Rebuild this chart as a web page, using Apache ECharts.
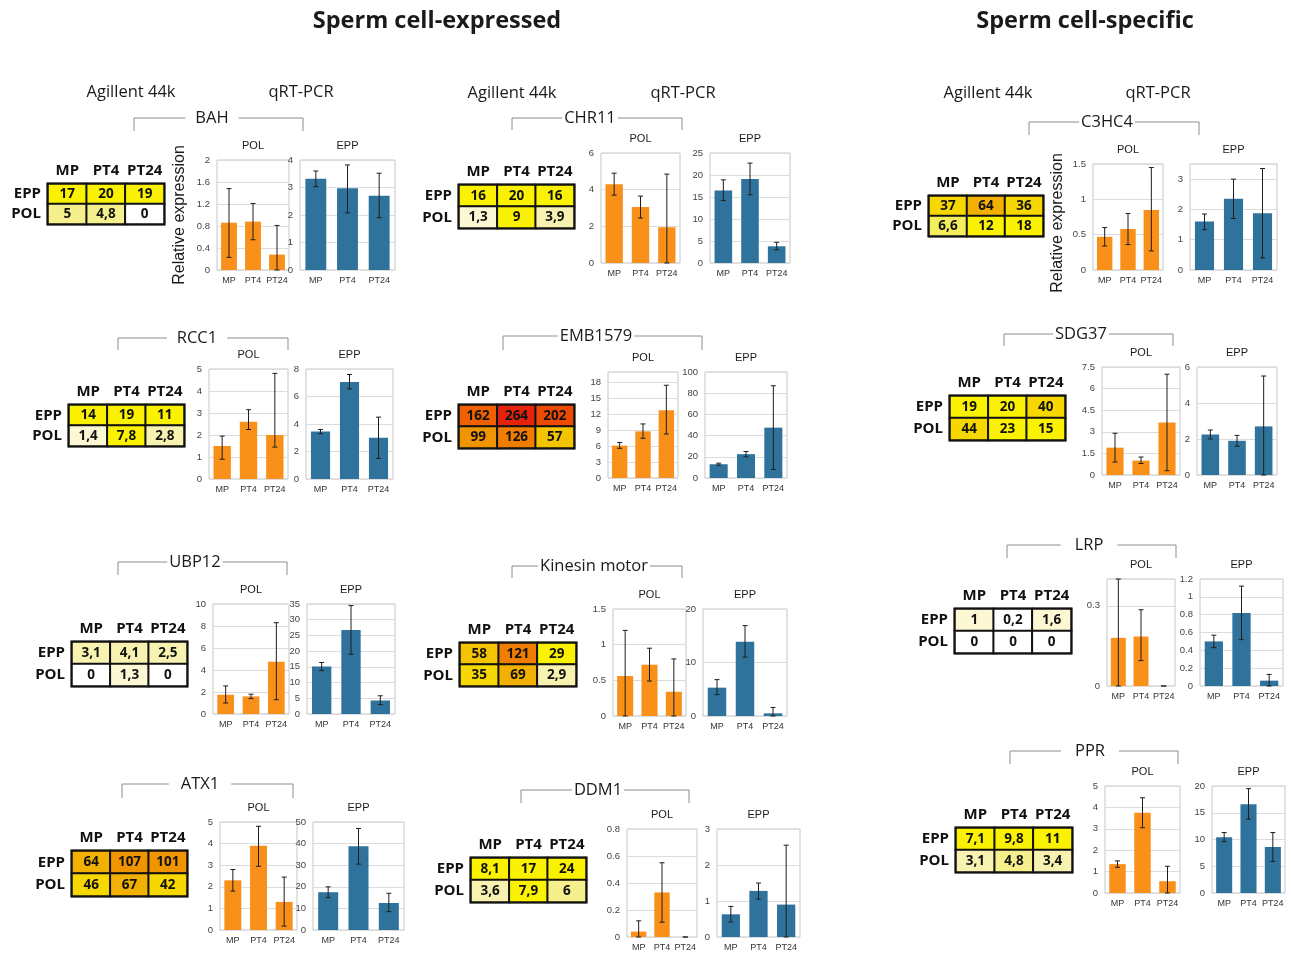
<!DOCTYPE html>
<html><head><meta charset="utf-8">
<script src="https://cdn.jsdelivr.net/npm/echarts@6/dist/echarts.min.js"></script>
<style>html,body{margin:0;padding:0;background:#fff}#c{width:1291px;height:953px}</style>
</head><body><div id="c"></div><script>
// ---------------- DATA ----------------
const genes = ['BAH','CHR11','C3HC4','RCC1','EMB1579','SDG37','UBP12','Kinesin motor','LRP','ATX1','DDM1','PPR'];
const stages = ['MP','PT4','PT24'];
const tissues = ['EPP','POL'];
const headings = ['Sperm cell-expressed','Sperm cell-specific'];
const methodLabels = ['Agillent 44k','qRT-PCR'];
const yAxisName = 'Relative expression';

// Agilent 44k microarray values (table cells)
const arrayEPP = [[17,20,19],[16,20,16],[37,64,36],[14,19,11],[162,264,202],[19,20,40],[3.1,4.1,2.5],[58,121,29],[1,0.2,1.6],[64,107,101],[8.1,17,24],[7.1,9.8,11]];
const arrayPOL = [[5,4.8,0],[1.3,9,3.9],[6.6,12,18],[1.4,7.8,2.8],[99,126,57],[44,23,15],[0,1.3,0],[35,69,2.9],[0,0,0],[46,67,42],[3.6,7.9,6],[3.1,4.8,3.4]];

// qRT-PCR POL
const qpcrPOL   = [[0.86,0.88,0.28],[4.3,3.05,1.95],[0.47,0.58,0.85],[1.5,2.6,2.0],[6.1,8.8,12.8],[1.9,1.0,3.65],[1.75,1.6,4.75],[0.56,0.72,0.34],[0.18,0.185,0],[2.3,3.9,1.3],[0.04,0.33,0],[1.35,3.75,0.55]];
const qpcrPOLlo = [[0.23,0.55,0],[3.7,2.45,0],[0.34,0.36,0.27],[0.9,2.25,1.45],[5.6,7.5,8.3],[0.9,0.8,0.3],[1.0,1.4,1.3],[0,0.49,0],[0,0.095,0],[1.8,2.95,0.18],[0,0.11,0],[1.2,3.05,0]];
const qpcrPOLhi = [[1.48,1.21,0.81],[4.9,3.65,4.85],[0.6,0.8,1.45],[1.95,3.15,4.8],[6.7,10.2,17.5],[2.9,1.25,7.0],[2.55,1.8,8.3],[1.2,0.95,0.8],[0.4,0.285,0],[2.8,4.8,2.45],[0.12,0.55,0],[1.5,4.45,1.25]];
// qRT-PCR EPP
const qpcrEPP   = [[3.32,2.97,2.7],[16.5,19.1,3.8],[1.6,2.35,1.87],[3.45,7.05,3.0],[13,22.5,47.5],[2.25,1.9,2.7],[15.1,26.7,4.3],[5.3,13.9,0.5],[0.5,0.82,0.06],[17.5,38.8,12.5],[0.63,1.28,0.9],[10.4,16.6,8.6]];
const qpcrEPPlo = [[3.03,2.08,1.9],[14.2,15.5,3.0],[1.33,1.7,0.4],[3.3,6.55,1.5],[12,20,8],[2.0,1.6,0],[13.8,19,3.0],[4.0,11,0],[0.43,0.52,0],[15,30.5,8.5],[0.42,1.05,0],[9.6,13.8,5.9]];
const qpcrEPPhi = [[3.6,3.82,3.52],[18.9,22.7,4.7],[1.85,3.0,3.35],[3.6,7.6,4.5],[14,25,87],[2.5,2.2,5.5],[16.4,34.5,5.8],[6.8,16.9,1.6],[0.57,1.12,0.13],[20,47,17],[0.85,1.5,2.55],[11.3,19.5,11.3]];

// axis tick settings
const polAxisMax  = [2,6,1.5,5,20,7.5,10,1.5,0.4,5,0.8,5];
const polAxisStep = [0.4,2,0.5,1,3,1.5,2,0.5,0.3,1,0.2,1];
const eppAxisMax  = [4,25,3.5,8,100,6,35,20,1.2,50,3,20];
const eppAxisStep = [1,5,1,2,20,2,5,10,0.2,10,1,5];

// ---------------- LAYOUT (positions only) ----------------
// tab/pol/epp: [left, top, width, height]; br: [x1, x2, y, yEnd, nameX, gapPad]
const layout = [
  {tab:[48,184,116,40], pol:[217,160,72,110], epp:[300,160,95,110], br:[134,303,118,131,212,10]},
  {tab:[459,185,115,43], pol:[601,153,79,110], epp:[710,153,80,110], br:[512,682,118,130,590,2]},
  {tab:[929,196,114,40], pol:[1093,164,70,106], epp:[1190,164,87,106], br:[1029,1199,122,135,1107,2]},
  {tab:[69,405,115,41], pol:[209,369,79,110], epp:[306,369,87,110], br:[118,288,338,350,197,10]},
  {tab:[459,405,115,43], pol:[608,372,70,106], epp:[705,372,82,106], br:[503,702,336,350,596,2]},
  {tab:[950,396,115,44], pol:[1102,367,78,108], epp:[1197,367,80,108], br:[1004,1173,334,346,1081,2]},
  {tab:[72,642,115,44], pol:[213,604,76,110], epp:[307,604,88,110], br:[118,287,562,575,195,2]},
  {tab:[460,643,116,43], pol:[613,609,73,107], epp:[703,609,84,107], br:[512,682,566,578,594,2]},
  {tab:[955,609,116,44], pol:[1107,579,68,107], epp:[1200,579,83,107], br:[1007,1176,545,558,1089,14]},
  {tab:[72,851,115,45], pol:[220,822,77,108], epp:[313,822,91,108], br:[122,293,784,798,200,12]},
  {tab:[471,858,115,44], pol:[627,829,70,108], epp:[717,829,83,108], br:[521,689,790,803,598,2]},
  {tab:[956,828,116,44], pol:[1105,786,75,107], epp:[1212,786,73,107], br:[1010,1178,751,764,1090,14]}
];
const headingPos = [[437,21],[1085,21]];
const methodPos = [[[131,92],[301,92]],[[512,93],[683,93]],[[988,93],[1158,93]]];
const relExprPos = [[180,215],[1058,223]];

// ---------------- BUILD ----------------
const SANS = 'Open Sans';
const ARIAL = 'Liberation Sans';
const POLC = '#f8901a', EPPC = '#2f739d';
const fmt = v => String(v).replace('.', ',');

const grid = [], xAxis = [], yAxis = [], series = [], graphic = [], heatIdx = [];

function isMult(max, step){ const r = max/step; return Math.abs(r - Math.round(r)) < 1e-6; }

function errRender(params, api){
  const i = api.value(0);
  const lo = api.coord([i, api.value(1)]);
  const hi = api.coord([i, api.value(2)]);
  const w = 2.5, st = {stroke:'#1e1e1e', lineWidth:1};
  return {type:'group', children:[
    {type:'line', shape:{x1:lo[0],y1:lo[1],x2:hi[0],y2:hi[1]}, style:st},
    {type:'line', shape:{x1:lo[0]-w,y1:lo[1],x2:lo[0]+w,y2:lo[1]}, style:st},
    {type:'line', shape:{x1:hi[0]-w,y1:hi[1],x2:hi[0]+w,y2:hi[1]}, style:st}
  ]};
}

function text(t, x, y, font, extra){
  return Object.assign({type:'text', z:20, x:x, y:y, style:{text:t, x:0, y:0, font:font, fill:'#1a1a1a',
    align:'center', verticalAlign:'middle', textAlign:'center', textVerticalAlign:'middle'}}, extra||{});
}

genes.forEach((g, i) => {
  const L = layout[i];
  const gi = grid.length;
  // table grid
  grid.push({left:L.tab[0], top:L.tab[1], width:L.tab[2], height:L.tab[3], show:true, borderColor:'#111', borderWidth:3, backgroundColor:'#fff'});
  xAxis.push({gridIndex:gi, type:'category', data:stages, position:'top', axisLine:{show:false}, axisTick:{show:false}, splitLine:{show:false},
    axisLabel:{fontFamily:SANS, fontWeight:'bold', fontSize:15, color:'#111', margin:6, interval:0, hideOverlap:false}});
  yAxis.push({gridIndex:gi, type:'category', data:tissues, inverse:true, axisLine:{show:false}, axisTick:{show:false}, splitLine:{show:false},
    axisLabel:{fontFamily:SANS, fontWeight:'bold', fontSize:15, color:'#111', margin:7, interval:0}});
  const hd = [];
  stages.forEach((s, k) => { hd.push([k, 0, arrayEPP[i][k]]); hd.push([k, 1, arrayPOL[i][k]]); });
  heatIdx.push(series.length);
  series.push({type:'heatmap', xAxisIndex:gi, yAxisIndex:gi, data:hd, silent:true,
    itemStyle:{borderColor:'#111', borderWidth:2},
    label:{show:true, formatter:p => fmt(p.value[2]), fontFamily:SANS, fontWeight:'bold', fontSize:13.5, color:'#111'},
    emphasis:{disabled:true}});

  // bar charts
  [['POL', L.pol, qpcrPOL, qpcrPOLlo, qpcrPOLhi, polAxisMax, polAxisStep, POLC],
   ['EPP', L.epp, qpcrEPP, qpcrEPPlo, qpcrEPPhi, eppAxisMax, eppAxisStep, EPPC]].forEach(c => {
    const [name, r, vals, lo, hi, mx, stp, col] = c;
    const idx = grid.length;
    grid.push({left:r[0], top:r[1], width:r[2], height:r[3], show:true, borderColor:'#c6c6c6', borderWidth:1, backgroundColor:'#fff'});
    xAxis.push({gridIndex:idx, type:'category', data:stages, axisLine:{show:false}, axisTick:{show:false}, splitLine:{show:false},
      axisLabel:{fontFamily:ARIAL, fontSize:9, color:'#333', margin:6, interval:0}});
    yAxis.push({gridIndex:idx, type:'value', min:0, max:mx[i], interval:stp[i], axisLine:{show:false}, axisTick:{show:false},
      splitLine:{show:true, lineStyle:{color:'#dcdcdc', width:1}},
      axisLabel:{fontFamily:ARIAL, fontSize:9.5, color:'#444', margin:7, showMaxLabel:isMult(mx[i], stp[i]), showMinLabel:true}});
    series.push({type:'bar', xAxisIndex:idx, yAxisIndex:idx, data:vals[i], barWidth:'66%', itemStyle:{color:col}, silent:true});
    series.push({type:'custom', xAxisIndex:idx, yAxisIndex:idx, renderItem:errRender, z:5, silent:true,
      encode:{x:0, y:[1,2]}, data:stages.map((s,k) => [k, lo[i][k], hi[i][k]])});
    graphic.push(text(name, r[0] + r[2]/2, r[1] - 14, '11px "' + ARIAL + '"', {}));
  });

  // bracket + gene name
  const b = L.br;
  graphic.push({type:'polyline', z:10, shape:{points:[[b[0],b[3]],[b[0],b[2]],[b[1],b[2]],[b[1],b[3]]]}, style:{stroke:'#8c8c8c', lineWidth:1, fill:null}});
  const gt = text(g, b[4], b[2], '16.5px "' + SANS + '"');
  gt.style.backgroundColor = '#fff';
  gt.style.padding = [0, b[5]];
  graphic.push(gt);
});

headings.forEach((h, k) => graphic.push(text(h, headingPos[k][0], headingPos[k][1], 'bold 23.5px "' + SANS + '"')));
methodPos.forEach(p => { methodLabels.forEach((m, k) => graphic.push(text(m, p[k][0], p[k][1], '16.5px "' + SANS + '"'))); });
relExprPos.forEach(p => graphic.push(text(yAxisName, p[0], p[1], '16px "' + ARIAL + '"', {rotation: Math.PI/2})));

const option = {
  animation:false,
  backgroundColor:'#fff',
  grid, xAxis, yAxis, series, graphic,
  visualMap:{type:'piecewise', show:false, seriesIndex:heatIdx, dimension:2, pieces:[
    {lt:0.5, color:'#ffffff'},
    {gte:0.5, lt:2, color:'#fcf8d4'},
    {gte:2, lt:4.5, color:'#f8f2b0'},
    {gte:4.5, lt:6.5, color:'#f5ef8c'},
    {gte:6.5, lt:7, color:'#f5ee5c'},
    {gte:7, lt:33, color:'#faf200'},
    {gte:33, lt:50, color:'#f7d700'},
    {gte:50, lt:62, color:'#f5c400'},
    {gte:62, lt:80, color:'#f2b000'},
    {gte:80, lt:115, color:'#f09400'},
    {gte:115, lt:140, color:'#ef7d00'},
    {gte:140, lt:180, color:'#ee6000'},
    {gte:180, lt:230, color:'#ec4a00'},
    {gte:230, color:'#e6220c'}
  ]}
};
const chart = echarts.init(document.getElementById('c'), null, {renderer:'canvas'});
chart.setOption(option);
</script></body></html>
